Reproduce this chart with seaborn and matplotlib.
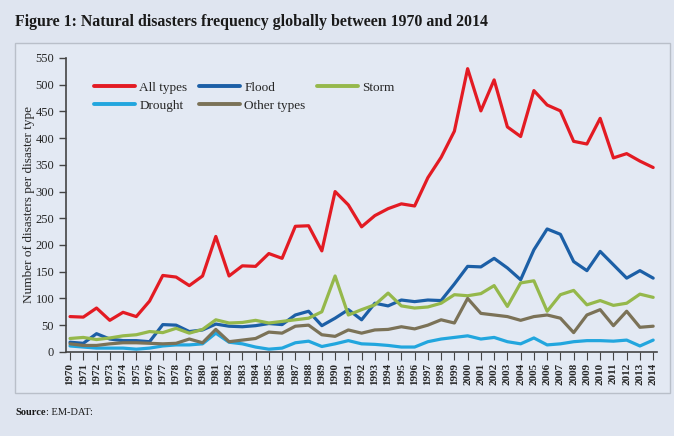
import pandas as pd
import matplotlib.pyplot as plt
import seaborn as sns
from matplotlib.patches import Rectangle

years = list(range(1970, 2015))

all_types = [66, 65, 82, 59, 74, 66, 95, 143, 140, 124, 142, 216, 142, 161, 160, 184, 175,
             235, 236, 189, 300, 275, 234, 255, 268, 277, 273, 326, 364, 413, 530, 451, 509,
             421, 403, 489, 462, 451, 394, 389, 437, 363, 371, 357, 345]
flood = [18, 16, 34, 24, 21, 21, 19, 51, 50, 38, 41, 52, 48, 47, 49, 53, 51, 69, 76, 49,
         63, 79, 60, 91, 86, 97, 94, 97, 96, 127, 160, 159, 175, 157, 135, 191, 230, 220,
         169, 152, 188, 163, 138, 152, 138]
storm = [25, 27, 23, 26, 30, 32, 38, 36, 44, 35, 42, 60, 54, 55, 59, 54, 57, 60, 63, 75,
         142, 69, 79, 88, 110, 86, 82, 84, 91, 107, 105, 109, 124, 85, 129, 133, 76, 107,
         115, 88, 96, 87, 91, 108, 102]
drought = [11, 9, 7, 7, 7, 5, 7, 11, 13, 13, 15, 35, 18, 15, 9, 5, 7, 17, 20, 10, 15, 21,
           15, 14, 12, 9, 9, 19, 24, 27, 30, 24, 27, 19, 15, 26, 13, 15, 19, 21, 21, 20, 22,
           11, 22]
other = [15, 12, 12, 15, 17, 17, 16, 15, 16, 24, 17, 42, 19, 22, 25, 37, 35, 48, 50, 32,
         29, 41, 35, 41, 42, 47, 43, 50, 60, 54, 100, 72, 69, 66, 59, 66, 69, 63, 36, 69,
         79, 49, 76, 46, 48]

names = ["All types", "Flood", "Storm", "Drought", "Other types"]
colors = ["#e31b23", "#1c5fa6", "#95b84b", "#22a6de", "#7b7257"]

df = pd.DataFrame({"Year": years, "All types": all_types, "Flood": flood, "Storm": storm,
                   "Drought": drought, "Other types": other})
long_df = df.melt(id_vars="Year", var_name="Type", value_name="Count")

sns.set_style("ticks")
plt.rcParams['font.family'] = ['Liberation Serif', 'DejaVu Serif']

bg = "#dfe5f0"
fig = plt.figure(figsize=(6.74, 4.36), dpi=100, facecolor=bg)
ax = fig.add_axes([0.098, 0.193, 0.877, 0.674])
ax.set_facecolor("none")

# chart frame
fig.patches.append(Rectangle((15 / 674, 1 - 393 / 436), 655 / 674, 350 / 436,
                             transform=fig.transFigure, fill=True, facecolor="#e3e9f3",
                             edgecolor="#b9bfc9", linewidth=1.0, zorder=-1))

sns.lineplot(data=long_df, x="Year", y="Count", hue="Type", hue_order=names,
             palette=colors, linewidth=2.3, ax=ax, legend=True)

ax.set_xlim(1969.7, 2014.3)
ax.set_ylim(0, 550)
ax.set_yticks(range(0, 551, 50))
ax.set_xticks(years)
ax.set_xticklabels([str(y) for y in years], rotation=90, fontsize=8, fontweight="bold")
ax.tick_params(axis="y", labelsize=9, length=5, color="#444444", width=1)
ax.tick_params(axis="x", length=6, color="#444444", width=0.8, pad=2)
for s in ["top", "right"]:
    ax.spines[s].set_visible(False)
for s in ["left", "bottom"]:
    ax.spines[s].set_color("#444444")
    ax.spines[s].set_linewidth(1.2)
ax.set_xlabel("")
ax.set_ylabel("Number of disasters per disaster type", fontsize=9.5, labelpad=0)

h, l = ax.get_legend_handles_labels()
idx = [0, 3, 1, 4, 2]
leg = ax.legend([h[i] for i in idx], [l[i] for i in idx], ncol=3, frameon=False,
                loc="upper left", bbox_to_anchor=(0.028, 0.96), fontsize=9.5,
                handlelength=3.1, columnspacing=0.9, labelspacing=0.45, handletextpad=0.3)
for line in leg.get_lines():
    line.set_linewidth(2.8)

fig.text(15 / 674, 1 - 22 / 436, "Figure 1: Natural disasters frequency globally between 1970 and 2014",
         fontsize=11.4, fontweight="bold", va="center", ha="left", color="#1a1a1a")
src = fig.text(15 / 674, 1 - 412 / 436, "Source", fontsize=7.5, fontweight="bold",
               va="center", ha="left", color="#1a1a1a")
fig.canvas.draw()
bb = src.get_window_extent()
fig.text(bb.x1 / 674, 1 - 412 / 436, ": EM-DAT:", fontsize=7.5, va="center", ha="left",
         color="#1a1a1a")

fig.savefig("out.png", dpi=100, facecolor=bg)
